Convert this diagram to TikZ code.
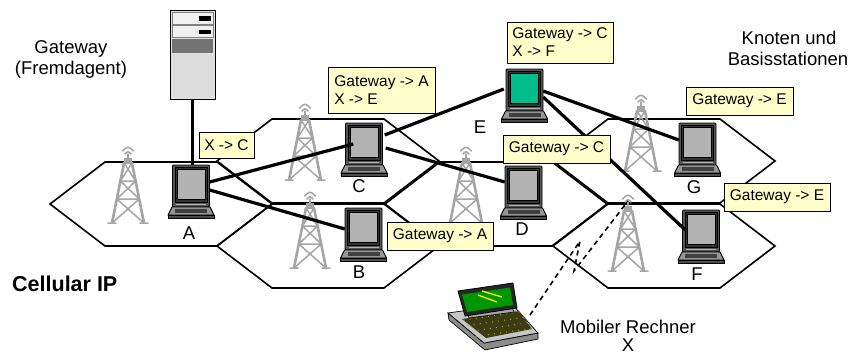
\documentclass[tikz,border=0pt]{standalone}
\usepackage{fontspec}
\setmainfont{Liberation Sans}
\usetikzlibrary{calc}

\definecolor{towergray}{RGB}{165,165,165}
\definecolor{tagfill}{RGB}{255,255,204}
\definecolor{scrgray}{RGB}{178,178,178}
\definecolor{scrteal}{RGB}{0,190,140}
\definecolor{monframe}{RGB}{85,85,85}
\definecolor{basegray}{RGB}{150,150,150}
\definecolor{lapgreen}{RGB}{0,150,0}
\definecolor{kbdark}{RGB}{60,60,20}

\newcommand\cipLabelFont{\fontsize{18.5}{22}\selectfont}
\newcommand\cipTagFont{\fontsize{15.5}{18}\selectfont}
\newcommand\cipTitleFont{\fontsize{21.5}{25}\selectfont\bfseries}

\tikzset{
  hexline/.style={draw=black, line width=1.6pt, line join=miter},
  link/.style={draw=black, line width=3.2pt},
  radiolink/.style={draw=black, line width=1.6pt, dash pattern=on 5pt off 4pt},
  tag/.style={draw=black, line width=0.8pt, fill=tagfill, font=\cipTagFont,
    inner xsep=5pt, inner ysep=3pt, align=left},
  lbl/.style={font=\cipLabelFont, inner sep=0pt, anchor=base},
  towerleg/.style={draw=towergray, line width=2.6pt, line cap=round},
  towerbrace/.style={draw=towergray, line width=1.5pt, line cap=round},
  screencol/.store in=\cipScreen, screencol=scrgray,
  pics/cell/.style={code={
    \draw[hexline] (-111,0) -- (-56,-42) -- (56,-42) -- (111,0)
      -- (56,42) -- (-56,42) -- cycle;}},
  pics/tower/.style={code={
    \coordinate (-top) at (0,6);
    \draw[towerbrace] (-3,7) .. controls (0,4) .. (3,7)
                      (-5.5,4) .. controls (0,-1) .. (5.5,4);
    \draw[towerbrace] (0,7) -- (0,12);
    \fill[towergray] (-4,11) rectangle (4,17);
    \draw[towerleg] (-4,16) -- (-16,76) (4,16) -- (16,76);
    \draw[towerbrace] (-4,16) -- (7.6,34) (4,16) -- (-7.6,34)
      (-7.6,34) -- (7.6,34)
      (-7.6,34) -- (11.2,52) (7.6,34) -- (-11.2,52)
      (-11.2,52) -- (11.2,52)
      (-11.2,52) -- (16,76) (11.2,52) -- (-16,76)
      (-20,76) -- (-12,76) (12,76) -- (20,76);}},
  pics/computer/.style={code={
    \node[inner sep=0pt, minimum width=37pt, minimum height=42pt] (-mon) at (0,21) {};
    \draw[fill=monframe, line width=0.9pt, rounded corners=1pt] (-18.5,0) rectangle (18.5,42);
    \draw[fill=black!80, line width=0.5pt] (-16,2.5) rectangle (16,37);
    \draw[fill=\cipScreen, line width=0.6pt] (-14,4.5) rectangle (14,34.5);
    \draw[gray!60, line width=0.8pt] (-15,39.5) -- (15,39.5);
    \draw[fill=basegray, line width=0.9pt] (-19,42) -- (19,42) -- (23,50) -- (-23,50) -- cycle;
    \fill[black!75] (-16,44) rectangle (16,47.5);
    \draw[fill=black!70, line width=0.6pt] (-23,50) rectangle (23,53);}}
}

\begin{document}
\begin{tikzpicture}[x=1pt, y=-1pt]
\useasboundingbox[fill=white] (0,0) rectangle (850,356);

% honeycomb of radio cells
\pic at (161,204) {cell};
\pic at (328,161) {cell};
\pic at (328,246) {cell};
\pic at (496,204) {cell};
\pic at (664,161) {cell};
\pic at (664,246) {cell};

% base station masts
\pic (tA) at (128,147) {tower};
\pic (tC) at (305,104) {tower};
\pic (tB) at (310,192) {tower};
\pic (tD) at (466,147) {tower};
\pic (tG) at (641,95) {tower};
\pic (tF) at (628,195) {tower};

% gateway server (foreign agent)
\node[draw=black, line width=1pt, fill=black!12, minimum width=45pt, minimum height=89pt,
      inner sep=0pt] (srv) at (192.5,54.5) {};
\draw[fill=black!6, line width=0.4pt, draw=black!50] (172,12) rectangle (213,24);
\fill[black] (199,16) rectangle (211,20.5);
\draw[fill=black!6, line width=0.4pt, draw=black!50] (172,25.5) rectangle (213,37);
\fill[black] (199,29.5) rectangle (211,34);
\fill[black!55] (172,38.5) rectangle (213,53);
\fill[black!14] (172,54) rectangle (213,97);

% stationary nodes
\pic (A) at (191,165) {computer};
\pic (C) at (364,123) {computer};
\pic[screencol=scrteal] (E) at (524.5,69) {computer};
\pic (D) at (523.5,166) {computer};
\pic (B) at (363.5,208) {computer};
\pic (G) at (697.5,123) {computer};
\pic (F) at (701,210) {computer};

% wired links
\draw[link] (srv.south) -- (srv.south |- A-mon.north);
\draw[link] ($(A-mon.east)+(0,-4)$) -- ($(C-mon.west)+(8,0)$);
\draw[link] ($(A-mon.east)+(0,4)$) -- (B-mon.west);
\draw[link] ($(C-mon.east)+(3,4)$) -- ($(D-mon.west)+(0,-5)$);
\draw[link] ($(C-mon.east)+(2,-9)$) -- ($(E-mon.west)+(-2,-1)$);
\draw[link] ($(E-mon.east)+(0,1)$) -- ($(G-mon.west)+(0,-4)$);
\draw[link] ($(E-mon.east)+(0,7)$) -- ($(F-mon.west)+(3,-1)$);

% mobile host X (laptop)
\draw[fill=black!45, line width=0.7pt] (448,313) -- (484,343) -- (538,333) -- (538,339)
  -- (485,350) -- (449,320) -- cycle;
\draw[fill=black!22, line width=0.7pt] (448,313) -- (512,304) -- (538,333) -- (484,343) -- cycle;
\fill[kbdark] (462,319) -- (519,311) -- (532,329) -- (486,338) -- cycle;
\foreach \i in {0,...,9}
  \foreach \j in {0,...,3}
    \fill[yellow!70!black] ($(464,320)!{\i/9}!(519,312)+(\j*4,\j*5.5)$) circle (0.6);
\draw[fill=black!35, line width=0.6pt] (467,313) -- (512,307) -- (514,312) -- (469,318) -- cycle;
\draw[fill=black!85, line width=0.8pt] (458,291) -- (513,283) -- (517,308) -- (465,316) -- cycle;
\fill[lapgreen] (462,294.5) -- (510,287.5) -- (513,305) -- (467,312) -- cycle;
\draw[yellow, line width=1.3pt] (478,295) -- (497,302) (482,291) -- (502,297);
\coordinate (X) at (530,315);

% radio link of the mobile host
\draw[radiolink] (X) -- (580,241) -- (574,271) -- (tF-top);

% routing cache entries
\node[tag, minimum width=55pt, minimum height=26pt] (tagA) at (226.5,145) {X -> C};
\node[tag, minimum width=107pt, minimum height=46pt] (tagC) at (381.5,90) {Gateway -> A\\X -> E};
\node[tag, minimum width=106pt, minimum height=41pt] (tagE) at (560,42.5) {Gateway -> C\\X -> F};
\node[tag, minimum width=107pt, minimum height=28pt] (tagD) at (556.5,149) {Gateway -> C};
\node[tag, minimum width=107pt, minimum height=28pt] (tagG) at (739.5,101) {Gateway -> E};
\node[tag, minimum width=106pt, minimum height=28pt] (tagF) at (777,197) {Gateway -> E};
\node[tag, minimum width=106pt, minimum height=28pt] (tagB) at (440,236) {Gateway -> A};

% node names
\node[lbl] (lA) at (189,239) {A};
\node[lbl] (lC) at (359,192) {C};
\node[lbl] (lB) at (359,278) {B};
\node[lbl] (lD) at (522,235) {D};
\node[lbl] (lE) at (480,133) {E};
\node[lbl] (lG) at (694,193) {G};
\node[lbl] (lF) at (697,280) {F};

% captions
\node[lbl] (gw1) at (71,53) {Gateway};
\node[lbl] (gw2) at (71,74) {(Fremdagent)};
\node[lbl] (kn1) at (789,44) {Knoten und};
\node[lbl] (kn2) at (788,65) {Basisstationen};
\node[lbl] (mob1) at (628,333) {Mobiler Rechner};
\node[lbl] (mob2) at (628,351) {X};
\node[font=\cipTitleFont, inner sep=0pt, anchor=base west] (title) at (12,291) {Cellular IP};
\end{tikzpicture}
\end{document}
